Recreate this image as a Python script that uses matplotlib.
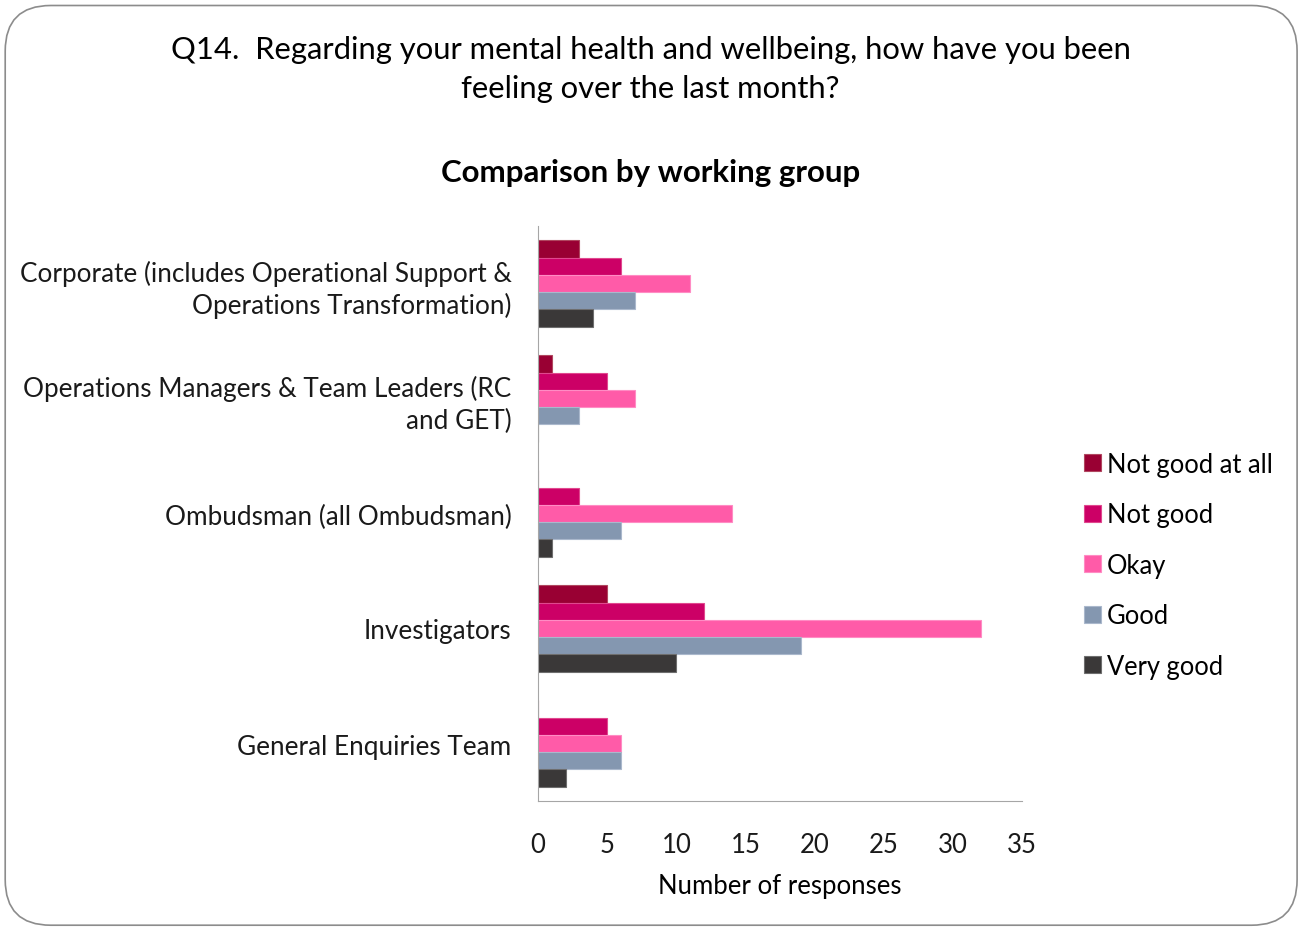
import numpy as np
import matplotlib.pyplot as plt
from matplotlib.patches import FancyBboxPatch

plt.rcParams['font.family'] = ['Lato', 'DejaVu Sans']

# Responses per working group
groups = [
    "Corporate (includes Operational Support &\nOperations Transformation)",
    "Operations Managers & Team Leaders (RC\nand GET)",
    "Ombudsman (all Ombudsman)",
    "Investigators",
    "General Enquiries Team",
]
ratings = ["Not good at all", "Not good", "Okay", "Good", "Very good"]
not_good_at_all = [3, 1, 0, 5, 0]
not_good = [6, 5, 3, 12, 5]
okay = [11, 7, 14, 32, 6]
good = [7, 3, 6, 19, 6]
very_good = [4, 0, 1, 10, 2]
colors = ["#990033", "#CC0066", "#FF5BA8", "#8497B0", "#3A3838"]
edges = ["#B0475F", "#E0488E", "#FF8CC4", "#AAB8CC", "#6E6E6E"]

series = [not_good_at_all, not_good, okay, good, very_good]

fig = plt.figure(figsize=(13.01, 9.29), dpi=100)
ax = fig.add_axes([0.4135, 0.1367, 0.3722, 0.619])

bar_h = 0.15
y = np.arange(len(groups))
for i, (vals, c, ec, lab) in enumerate(zip(series, colors, edges, ratings)):
    ax.barh(y - 0.3 + i * bar_h, vals, height=bar_h, color=c, edgecolor=ec,
            linewidth=0.8, label=lab)

ax.set_xlim(0, 35)
ax.set_ylim(len(groups) - 0.5, -0.5)
ax.set_xticks(range(0, 36, 5))
ax.set_yticks(y)
ax.set_yticklabels(groups, fontsize=18.8, linespacing=1.3)
ax.tick_params(axis='both', length=0, colors='#1a1a1a')
ax.tick_params(axis='x', labelsize=18.5, pad=22)
ax.tick_params(axis='y', pad=19)
for lbl in ax.get_yticklabels():
    lbl.set_horizontalalignment('right')
ax.spines['top'].set_visible(False)
ax.spines['right'].set_visible(False)
ax.spines['left'].set_color('#A6A6A6')
ax.spines['bottom'].set_color('#A6A6A6')
ax.set_xlabel("Number of responses", fontsize=18.5, labelpad=12)

leg = ax.legend(loc='center left', bbox_to_anchor=(1.08, 0.41), frameon=False,
                fontsize=18.4, handlelength=0.65, handleheight=0.65,
                handletextpad=0.25, labelspacing=1.0)

fig.text(0.5, 0.925, "Q14.  Regarding your mental health and wellbeing, how have you been\nfeeling over the last month?",
         ha='center', va='center', fontsize=22.3, linespacing=1.5)
fig.text(0.5, 0.814, "Comparison by working group", ha='center', va='center',
         fontsize=22.5, fontweight='bold')

border = FancyBboxPatch((0.004, 0.003), 0.993, 0.99,
                        boxstyle="round,pad=0,rounding_size=0.035",
                        transform=fig.transFigure, facecolor='none',
                        edgecolor='#8C8C8C', linewidth=1.2,
                        mutation_aspect=1301 / 929)
fig.patches.append(border)

fig.savefig("out.png", dpi=100)
